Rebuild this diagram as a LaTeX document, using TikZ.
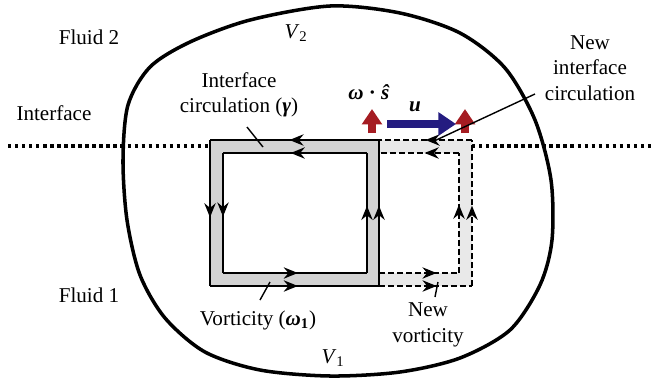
\documentclass[tikz,border=0pt]{standalone}
\usepackage{fontspec}
\setmainfont{Liberation Serif}
\usetikzlibrary{arrows.meta,decorations.markings}
\definecolor{framegray}{RGB}{211,211,211}
\definecolor{newgray}{RGB}{233,233,233}
\definecolor{fluxred}{RGB}{165,28,34}
\definecolor{fluxblue}{RGB}{36,28,128}
\tikzset{
  loop solid/.style={line width=1.7pt,draw=black,line join=miter},
  loop dash/.style={line width=1.6pt,draw=black,dash pattern=on 4pt off 2.4pt},
  loop arrow/.style={postaction={decorate},decoration={markings,
    mark=at position #1 with {\arrow{Stealth[length=10pt,width=8pt]}}}},
  blob line/.style={line width=2.5pt,draw=black},
  interface line/.style={line width=2.4pt,dash pattern=on 2.4pt off 2.6pt},
  pointer/.style={line width=1pt,draw=black},
  flux red/.style={fluxred,line width=5.9pt,-{Triangle[length=11pt,width=14pt]}},
  flux blue/.style={fluxblue,line width=5.9pt,-{Triangle[length=12.5pt,width=16pt]}},
  tag/.style={inner sep=0pt,align=center}
}

\begin{document}
\begin{tikzpicture}[x=0.025cm,y=-0.025cm,font=\fontsize{15}{18.2}\selectfont]
  \useasboundingbox (0,0) rectangle (654,378);
  % corners of the loop
  \coordinate (otl) at (210,140); \coordinate (otr) at (379,140);
  \coordinate (obr) at (379,286); \coordinate (obl) at (210,286);
  \coordinate (itl) at (223,153); \coordinate (itr) at (367,153);
  \coordinate (ibr) at (367,273); \coordinate (ibl) at (223,273);
  \coordinate (ntr) at (472,140); \coordinate (nbr) at (472,286);
  \coordinate (nitl) at (379,153); \coordinate (nitr) at (459,153);
  \coordinate (nibr) at (459,273); \coordinate (nibl) at (379,273);

  \draw[interface line] (8,146) -- (654,146);
  \draw[blob line] plot[smooth cycle] coordinates {(123,160) (128,105) (150,67)
    (190,42) (250,20) (330,6) (400,13) (460,33) (505,68) (535,120) (551,180)
    (552,240) (540,285) (510,330) (460,358) (400,372) (330,376) (260,370)
    (205,352) (165,318) (140,275) (127,220)};

  % loop fills
  \fill[framegray,even odd rule] (otl) rectangle (obr) (itl) rectangle (ibr);
  \fill[newgray,even odd rule] (otr) rectangle (nbr) (nitl) rectangle (nibr);

  % old loop
  \draw[loop solid,loop arrow=0.53] (otr) -- (otl);
  \draw[loop solid,loop arrow=0.53] (otl) -- (obl);
  \draw[loop solid,loop arrow=0.52] (obl) -- (obr);
  \draw[loop solid,loop arrow=0.55] (obr) -- (otr);
  \draw[loop solid,loop arrow=0.53] (itr) -- (itl);
  \draw[loop solid,loop arrow=0.53] (itl) -- (ibl);
  \draw[loop solid,loop arrow=0.52] (ibl) -- (ibr);
  \draw[loop solid,loop arrow=0.56] (ibr) -- (itr);
  % new loop
  \draw[loop dash,loop arrow=0.50] (ntr) -- (otr);
  \draw[loop dash,loop arrow=0.55] (nbr) -- (ntr);
  \draw[loop dash,loop arrow=0.62] (obr) -- (nbr);
  \draw[loop dash,loop arrow=0.43] (nitr) -- (nitl);
  \draw[loop dash,loop arrow=0.57] (nibr) -- (nitr);
  \draw[loop dash,loop arrow=0.72] (nibl) -- (nibr);

  % flux arrows
  \coordinate (redA) at (372,133); \coordinate (redAtip) at (372,109);
  \coordinate (redB) at (465,133); \coordinate (redBtip) at (465,109);
  \coordinate (blue) at (387,124); \coordinate (bluetip) at (456,124);
  \draw[flux red] (redA) -- (redAtip);
  \draw[flux red] (redB) -- (redBtip);
  \draw[flux blue] (blue) -- (bluetip);

  % labels
  \node[tag] (fluidtwo) at (89,37) {Fluid 2};
  \node[tag] (fluidone) at (89,295) {Fluid 1};
  \node[tag] (iface) at (54,113) {Interface};
  \node[tag] (vtwo) at (296,33) {\textit{V}\textsubscript{2}};
  \node[tag] (vone) at (333,358) {\textit{V}\textsubscript{1}};
  \node[tag] (circlbl) at (239,95) {Interface\\circulation (\textbf{\textit{γ}})};
  \node[tag] (newcirc) at (590,68) {New\\interface\\circulation};
  \node[tag] (vortlbl) at (258,320) {Vorticity (\textbf{\textit{ω}}\textsubscript{\textbf{1}})};
  \node[tag] (newvort) at (428,325) {New\\vorticity};
  \node[tag] (wdots) at (369,92) {\textbf{\textit{ω}} \textbf{·} \textbf{\textit{ŝ}}};
  \node[tag] (ulbl) at (415,107) {\textbf{\textit{u}}};

  % pointers
  \coordinate (circfoot) at (247,127); \coordinate (circtip) at (263,147);
  \coordinate (vortfoot) at (260,300); \coordinate (vorttip) at (270,282);
  \coordinate (nvfoot) at (435,297); \coordinate (nvtip) at (438,282);
  \coordinate (ncfoot) at (535,94); \coordinate (nctip) at (432,142);
  \draw[pointer] (circfoot) -- (circtip);
  \draw[pointer] (vortfoot) -- (vorttip);
  \draw[pointer] (nvfoot) -- (nvtip);
  \draw[pointer] (ncfoot) -- (nctip);
\end{tikzpicture}
\end{document}
